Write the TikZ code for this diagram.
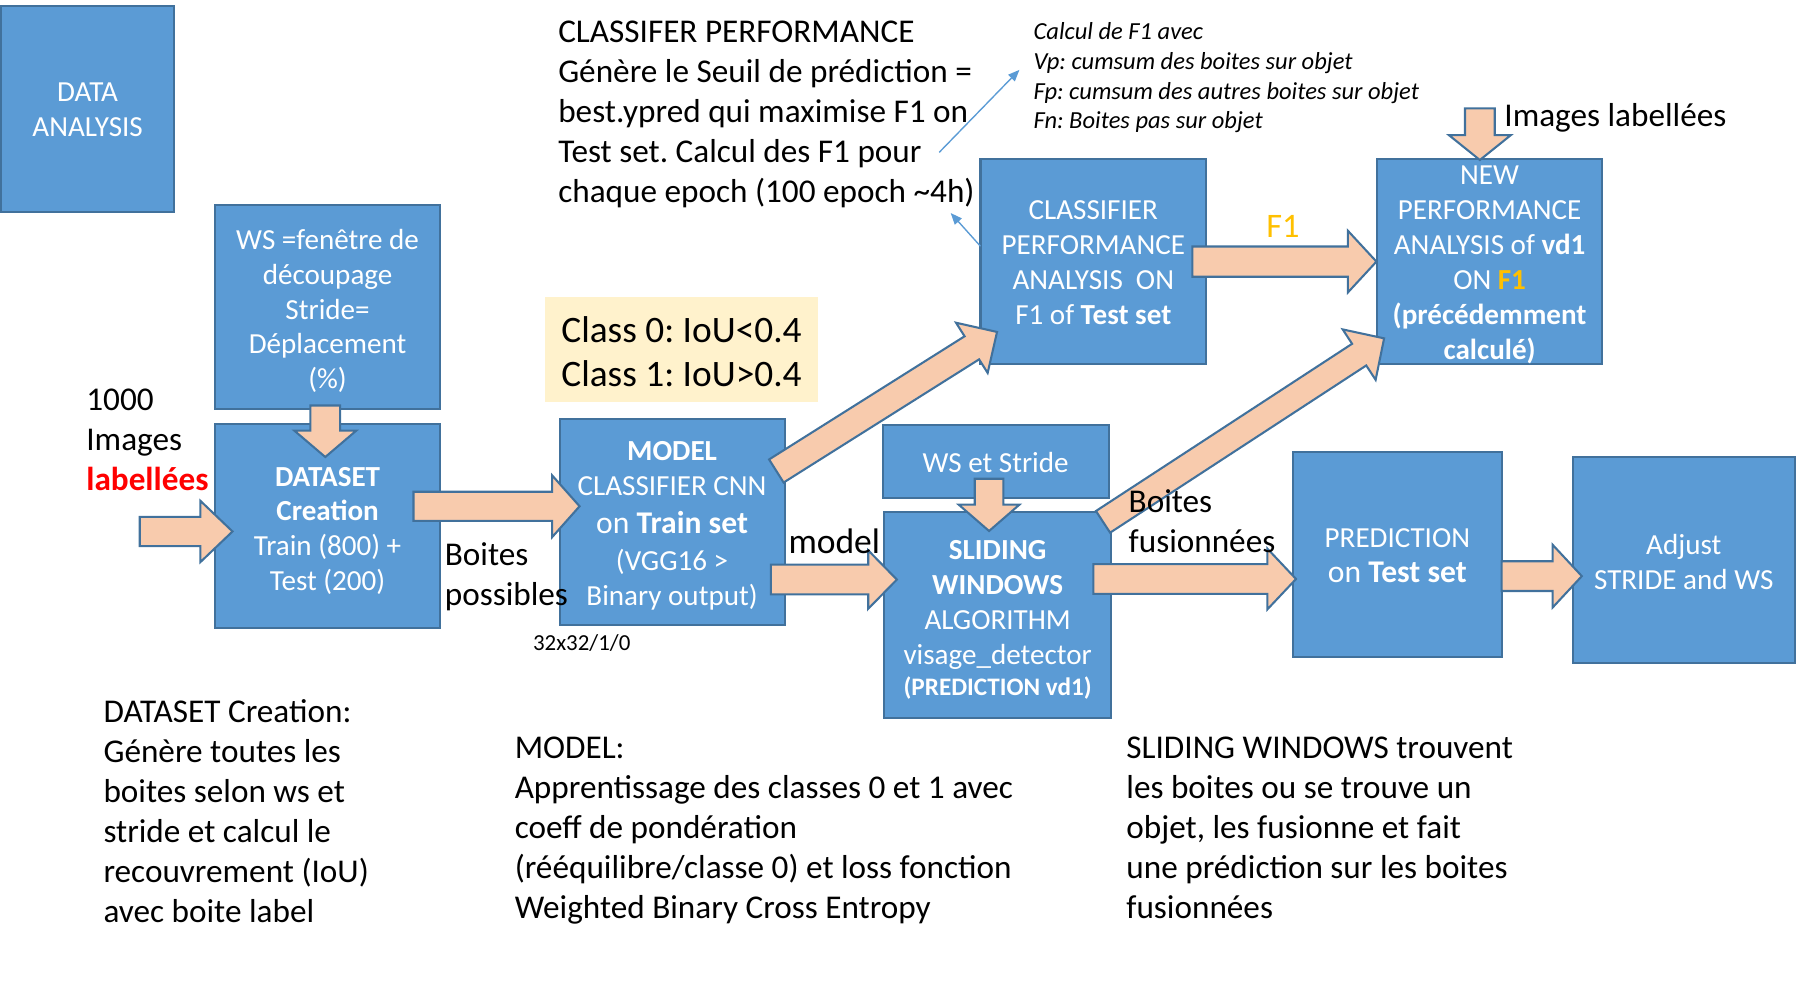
\documentclass[tikz,border=0pt]{standalone}
\usepackage{fontspec}
\setmainfont{Carlito}
\usetikzlibrary{arrows.meta}
\definecolor{boxblue}{HTML}{5B9BD5}
\definecolor{boxedge}{HTML}{41719C}
\definecolor{peach}{HTML}{F8CBAD}
\definecolor{classbg}{HTML}{FFF2CC}
\definecolor{fone}{HTML}{FFC000}
\newcommand{\mfont}{\fontsize{14.5}{17.5}\selectfont}
\newcommand{\bxfont}{\fontsize{12.7}{15.25}\selectfont}
\newcommand{\bigln}{\fontsize{13.8}{15.25}\selectfont}
% block arrow: #1 tail coordinate, #2 tip coordinate, #3 shaft half width, #4 head half width, #5 head length (px)
\newcommand{\barrow}[5]{%
  \pgfpointdiff{\pgfpointanchor{#1}{center}}{\pgfpointanchor{#2}{center}}%
  \pgfgetlastxy{\bdx}{\bdy}%
  \pgfmathsetmacro{\bang}{atan2(\bdy,\bdx)}%
  \pgfmathsetmacro{\blen}{veclen(\bdx,\bdy)*2}%
  \pgfmathsetmacro{\bneck}{\blen-#5}%
  \begin{scope}[shift={(#1)}, rotate=\bang]
    \draw[barrowst] (0,#3) -- (\bneck,#3) -- (\bneck,#4) -- (\blen,0) -- (\bneck,-#4) -- (\bneck,-#3) -- (0,-#3) -- cycle;
  \end{scope}}
\begin{document}
\frenchspacing
\begin{tikzpicture}[x=0.5pt,y=-0.5pt,
  box/.style={draw=boxedge, line width=0.9pt, fill=boxblue, inner sep=0pt},
  boxtext/.style={text=white, align=center, inner sep=0pt, font=\bxfont},
  barrowst/.style={draw=boxedge, line width=0.9pt, fill=peach, line join=miter},
  lbl/.style={inner sep=0pt, anchor=west, align=left, font=\mfont},
  thinarr/.style={draw=boxblue, line width=0.6pt, -{Triangle[length=5pt,width=4pt]}}]
\useasboundingbox (0,0) rectangle (1568,860);

% ---------- boxes ----------
\node[box, minimum width=75.5pt, minimum height=90pt] (da) at (76.5,95) {};
\node[box, minimum width=98pt, minimum height=89pt] (ws) at (286,268) {};
\node[box, minimum width=98pt, minimum height=89pt] (ds) at (286,459) {};
\node[box, minimum width=98.25pt, minimum height=90pt] (model) at (586.75,455.5) {};
\node[fill=classbg, minimum width=119pt, minimum height=46pt, inner sep=0pt] (cls) at (595,305) {};
\node[box, minimum width=98.5pt, minimum height=89.5pt] (cp) at (954.5,228.5) {};
\node[box, minimum width=98.5pt, minimum height=89.5pt] (np) at (1300.5,228.5) {};
\node[box, minimum width=98.75pt, minimum height=31.75pt] (wss) at (869.25,402.75) {};
\node[box, minimum width=99pt, minimum height=89.75pt] (sw) at (871,536.75) {};
\node[box, minimum width=91pt, minimum height=89.65pt] (pred) at (1220,484) {};
\node[box, minimum width=97pt, minimum height=90pt] (adj) at (1470,489) {};

% ---------- box texts ----------
\node[boxtext, yshift=-0.5pt] (da-t) at (da.center) {DATA\\ANALYSIS};
\node[boxtext, yshift=-1.75pt] (ws-t) at (ws.center) {WS =fenêtre de\\découpage\\Stride=\\Déplacement\\(\%)};
\node[boxtext, yshift=-2.25pt] (ds-t) at (ds.center) {\textbf{DATASET}\\\textbf{Creation}\\Train (800) +\\Test (200)};
\node[boxtext, yshift=-1.75pt] (model-t) at (model.center) {\textbf{MODEL}\\CLASSIFIER CNN\\[1.25pt]{\bigln on \textbf{Train set}}\\[0.75pt](VGG16 >\\Binary output)};
\node[inner sep=0pt, align=left, font=\fontsize{16.3}{19.5}\selectfont, yshift=-1pt] (cls-t) at (cls.center) {Class 0: IoU<0.4\\Class 1: IoU>0.4};
\node[boxtext, yshift=-0.5pt] (cp-t) at (cp.center) {CLASSIFIER\\PERFORMANCE\\ANALYSIS~~ON\\F1 of \textbf{Test set}};
\node[boxtext, yshift=-1.25pt] (np-t) at (np.center) {NEW\\PERFORMANCE\\ANALYSIS of \textbf{vd1}\\ON \textbf{\color{fone}F1}\\\textbf{(précédemment}\\\textbf{calculé)}};
\node[boxtext, yshift=-0.5pt] (wss-t) at (wss.center) {WS et Stride};
\node[boxtext, yshift=-2.25pt] (sw-t) at (sw.center) {\textbf{SLIDING}\\\textbf{WINDOWS}\\ALGORITHM\\visage\_detector\\[-1.75pt]{\fontsize{11}{13}\selectfont\bfseries (PREDICTION vd1)}};
\node[boxtext, yshift=-0.5pt] (pred-t) at (pred.center) {PREDICTION\\{\bigln on \textbf{Test set}}};
\node[boxtext, yshift=-0.75pt] (adj-t) at (adj.center) {Adjust\\STRIDE and WS};

% ---------- arrow end points ----------
\coordinate (inT) at (122,464);   \coordinate (inH) at (203,464);
\coordinate (wsT) at (284,354);   \coordinate (wsH) at (284,399);
\coordinate (dsT) at (361,442);   \coordinate (dsH) at (506,442);
\coordinate (mdT) at (673,506);   \coordinate (mdH) at (783,506);
\coordinate (mcT) at (677.8,411.2); \coordinate (mcH) at (870.8,289.6);
\coordinate (cpT) at (1041,228.4); \coordinate (cpH) at (1201.7,228.4);
\coordinate (ilT) at (1292,94.6); \coordinate (ilH) at (1292,139.7);
\coordinate (wssT) at (863.5,418); \coordinate (wssH) at (863.5,463.6);
\coordinate (swnT) at (963,455.6); \coordinate (swnH) at (1208.4,295.4);
\coordinate (swpT) at (954.6,505.5); \coordinate (swpH) at (1131.5,505.5);
\coordinate (prT) at (1311,503); \coordinate (prH) at (1381,503);

% ---------- block arrows ----------
\barrow{inT}{inH}{12.75}{26.7}{28}
\barrow{wsT}{wsH}{13}{27}{23}
\barrow{dsT}{dsH}{12.7}{27}{24}
\barrow{mdT}{mdH}{13}{25.5}{25}
\barrow{mcT}{mcH}{11.9}{25.9}{26}
\barrow{cpT}{cpH}{13.2}{27}{25}
\barrow{ilT}{ilH}{13}{27}{21.7}
\barrow{wssT}{wssH}{12.5}{26.5}{23}
\barrow{swnT}{swnH}{11.3}{26.3}{26}
\barrow{swpT}{swpH}{13}{26.5}{25}
\barrow{prT}{prH}{13}{27.4}{25.5}

% ---------- texts ----------
\node[lbl] (perf) at (487,100) {CLASSIFER PERFORMANCE\\Génère le Seuil de prédiction =\\best.ypred qui maximise F1 on\\Test set. Calcul des F1 pour\\chaque epoch (100 epoch \textasciitilde4h)};
\node[lbl, font=\fontsize{10.7}{13}\selectfont\itshape] (f1calc) at (902,68) {Calcul de F1 avec\\Vp: cumsum des boites sur objet\\Fp: cumsum des autres boites sur objet\\Fn: Boites pas sur objet};
\node[lbl] (imlab) at (1313,103) {Images labellées};
\node[lbl, anchor=center, font=\fontsize{15}{17.5}\selectfont, text=fone] (f1) at (1120,198) {F1};
\node[lbl] (in1000) at (75,384) {1000\\Images\\\textcolor{red}{\textbf{labellées}}};
\node[lbl] (bposs) at (388,503.5) {Boites\\possibles};
\node[lbl, font=\fontsize{10}{12}\selectfont] (dims) at (465,561) {32x32/1/0};
\node[lbl, font=\fontsize{15.5}{17.5}\selectfont] (mlab) at (688,473) {model};
\node[lbl] (bfus) at (985,455) {Boites\\fusionnées};
\node[lbl] (dsdesc) at (90,708) {DATASET Creation:\\Génère toutes les\\boites selon ws et\\stride et calcul le\\recouvrement (IoU)\\avec boite label};
\node[lbl] (mddesc) at (449,725) {MODEL:\\Apprentissage des classes 0 et 1 avec\\coeff de pondération\\(rééquilibre/classe 0) et loss fonction\\Weighted Binary Cross Entropy};
\node[lbl] (swdesc) at (983,722.8) {SLIDING WINDOWS trouvent\\les boites ou se trouve un\\objet, les fusionne et fait\\une prédiction sur les boites\\fusionnées};

% ---------- thin connectors ----------
\coordinate (t1s) at (820,133); \coordinate (t1e) at (890,61);
\coordinate (t2s) at (856,215); \coordinate (t2e) at (830,186);
\draw[thinarr] (t1s) -- (t1e);
\draw[thinarr] (t2s) -- (t2e);
\end{tikzpicture}
\end{document}
